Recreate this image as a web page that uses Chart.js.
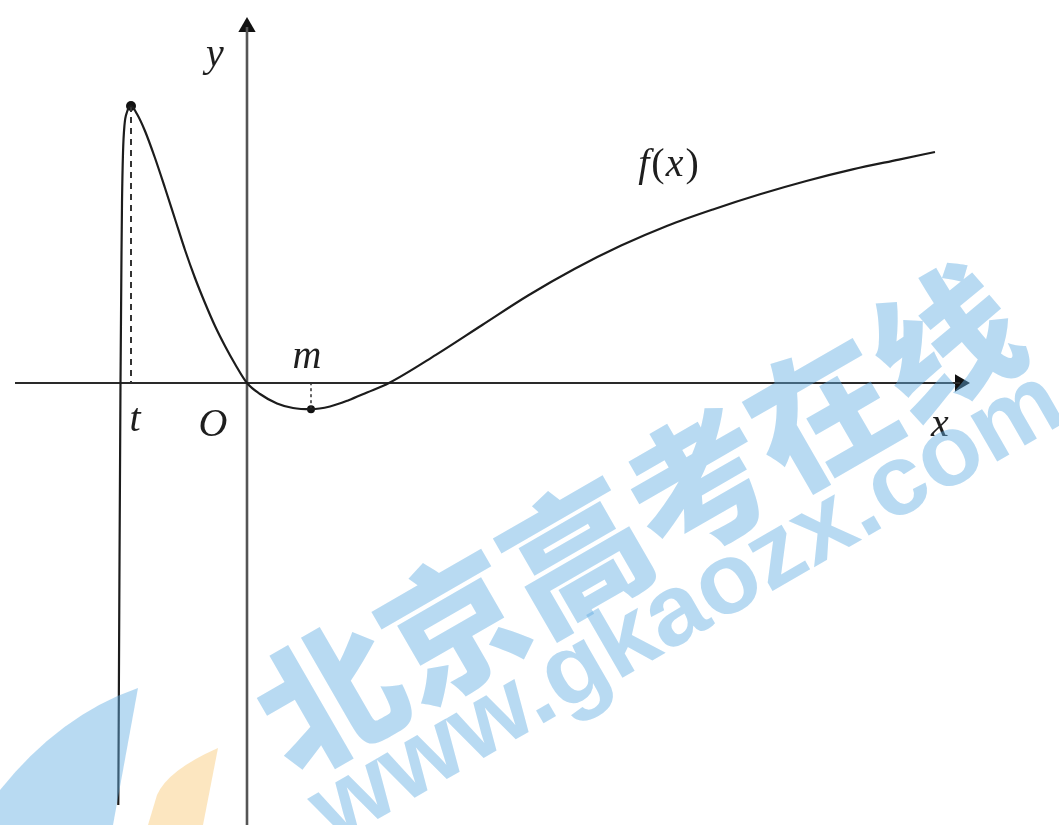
<!DOCTYPE html>
<html>
<head>
<meta charset="utf-8">
<script src="https://cdn.jsdelivr.net/npm/chart.js@4"></script>
<style>
	html, body { margin: 0; padding: 0; background: #fff; }
	#wrap { width: 1059px; height: 825px; }
</style>
</head>
<body>
<div id="wrap"><canvas id="graph" width="1059" height="825"></canvas></div>
<script>
// Curve f(x) (1 unit = 100 px, origin at the axes crossing)
// ================================================================================
let curve_x = [-1.287, -1.276, -1.265, -1.255, -1.250, -1.240, -1.225, -1.200, -1.160, -1.100,
	-1.020, -0.920, -0.820, -0.720, -0.620, -0.520, -0.420, -0.320, -0.220, -0.120,
	0.000, 0.130, 0.300, 0.460, 0.640, 0.830, 1.010, 1.200, 1.420, 1.889,
	2.352, 2.815, 3.278, 3.741, 4.204, 4.667, 5.130, 5.593, 6.056, 6.519,
	6.880];
let curve_y = [-4.22, -2.00, 0.00, 1.30, 1.80, 2.30, 2.58, 2.71, 2.77, 2.69,
	2.52, 2.25, 1.95, 1.64, 1.33, 1.05, 0.80, 0.57, 0.37, 0.19,
	0.00, -0.11, -0.205, -0.25, -0.262, -0.235, -0.175, -0.095, 0.00, 0.281,
	0.58, 0.877, 1.142, 1.374, 1.573, 1.738, 1.887, 2.02, 2.136, 2.234,
	2.31];

// special points: the maximum at x = t and the minimum at x = m
let peak_point = [-1.16, 2.77];
let min_point = [0.64, -0.262];

// axis extents and view window
let x_axis_span = [-2.32, 7.13];
let y_axis_span = [-4.50, 3.56];
let view_x = [-2.47, 8.12];
let view_y = [-4.42, 3.83];

// text labels ("f(x)" is split so the brackets stay upright)
let label_text = ['y', 'x', 'O', 't', 'm', 'f(x)'];
let label_x = [-0.32, 6.93, -0.34, -1.12, 0.60, 4.22];
let label_y = [3.28, -0.42, -0.42, -0.37, 0.26, 2.18];

let xy = (xs, ys) => xs.map((x, i) => ({x: x, y: ys[i]}));

// Plugins
// ================================================================================
let serif = '"Liberation Serif", "DejaVu Serif", serif';

let draw_runs = (ctx, runs, cx, cy) => {
	// runs: [text, italic]
	let widths = runs.map(r => {
		ctx.font = (r[1] ? 'italic ' : '') + '40px ' + serif;
		return ctx.measureText(r[0]).width + (r[1] ? 2 : 1);
	});
	let total = widths.reduce((a, b) => a + b, 0);
	let x = cx - total / 2;
	runs.forEach((r, i) => {
		ctx.font = (r[1] ? 'italic ' : '') + '40px ' + serif;
		ctx.fillText(r[0], x, cy);
		x += widths[i];
	});
};

let labels_plugin = {
	id: 'labels',
	afterDatasetsDraw(chart) {
		let ctx = chart.ctx;
		let sx = chart.scales.x, sy = chart.scales.y;
		ctx.save();
		ctx.fillStyle = '#1e1e1e';
		ctx.textBaseline = 'middle';
		label_text.forEach((txt, i) => {
			let px = sx.getPixelForValue(label_x[i]);
			let py = sy.getPixelForValue(label_y[i]);
			if (txt === 'f(x)') {
				ctx.textAlign = 'left';
				draw_runs(ctx, [['f', true], ['(', false], ['x', true], [')', false]], px, py);
			} else {
				ctx.textAlign = 'center';
				ctx.font = 'italic 40px ' + serif;
				ctx.fillText(txt, px, py);
			}
		});
		ctx.restore();
	}
};

// site watermark over the figure (semi transparent)
let watermark_plugin = {
	id: 'watermark',
	afterDraw(chart) {
		let ctx = chart.ctx;
		ctx.save();
		ctx.fillStyle = 'rgba(97, 173, 226, 0.45)';
		ctx.beginPath();
		ctx.moveTo(0, 790);
		ctx.quadraticCurveTo(60, 715, 138, 688);
		ctx.lineTo(113, 825);
		ctx.lineTo(0, 825);
		ctx.closePath();
		ctx.fill();

		ctx.fillStyle = 'rgba(250, 205, 130, 0.5)';
		ctx.beginPath();
		ctx.moveTo(148, 825);
		ctx.lineTo(157, 795);
		ctx.quadraticCurveTo(168, 770, 218, 748);
		ctx.lineTo(203, 825);
		ctx.closePath();
		ctx.fill();

		ctx.fillStyle = 'rgba(97, 173, 226, 0.45)';
		ctx.textAlign = 'center';
		ctx.textBaseline = 'middle';

		ctx.save();
		ctx.translate(637, 519);
		ctx.rotate(-30 * Math.PI / 180);
		ctx.font = '900 142px "Noto Sans CJK SC", sans-serif';
		ctx.fillText('北京高考在线', 0, 0);
		ctx.restore();

		ctx.save();
		ctx.translate(688, 608);
		ctx.rotate(-30 * Math.PI / 180);
		ctx.font = 'bold 100px "Liberation Sans", Arial, sans-serif';
		let w = ctx.measureText('www.gkaozx.com').width;
		ctx.scale(850 / w, 1);
		ctx.fillText('www.gkaozx.com', 0, 0);
		ctx.restore();

		ctx.restore();
	}
};

// Chart
// ================================================================================
let line_ds = (data, color, width, dash) => ({
	data: data,
	showLine: true,
	borderColor: color,
	borderWidth: width,
	borderDash: dash || [],
	pointRadius: 0,
	fill: false
});

new Chart(document.getElementById('graph'), {
	type: 'scatter',
	data: {
		datasets: [
			Object.assign(line_ds(xy(curve_x, curve_y), '#1c1c1c', 2.2), {cubicInterpolationMode: 'monotone'}),
			line_ds(xy([peak_point[0], peak_point[0]], [peak_point[1], 0]), '#333', 2, [6, 5]),
			line_ds(xy([min_point[0], min_point[0]], [min_point[1], 0]), '#333', 1.5, [3, 3]),
			{
				data: xy([peak_point[0], min_point[0]], [peak_point[1], min_point[1]]),
				pointRadius: [5, 4],
				pointBackgroundColor: '#111',
				pointBorderWidth: 0
			},
			line_ds(xy(x_axis_span, [0, 0]), '#2a2a2a', 2),
			line_ds(xy([0, 0], y_axis_span), '#555', 2.6),
			{
				// arrow heads
				data: xy([x_axis_span[1], 0], [0, y_axis_span[1]]),
				pointStyle: 'triangle',
				rotation: [90, 0],
				pointRadius: 10,
				pointBackgroundColor: ['#111', '#111'],
				pointBorderWidth: 0
			}
		]
	},
	options: {
		responsive: false,
		animation: false,
		devicePixelRatio: 1,
		layout: {padding: 0, autoPadding: false},
		plugins: {
			legend: {display: false},
			tooltip: {enabled: false}
		},
		scales: {
			x: {type: 'linear', min: view_x[0], max: view_x[1], display: false},
			y: {type: 'linear', min: view_y[0], max: view_y[1], display: false}
		}
	},
	plugins: [labels_plugin, watermark_plugin]
});
</script>
</body>
</html>
